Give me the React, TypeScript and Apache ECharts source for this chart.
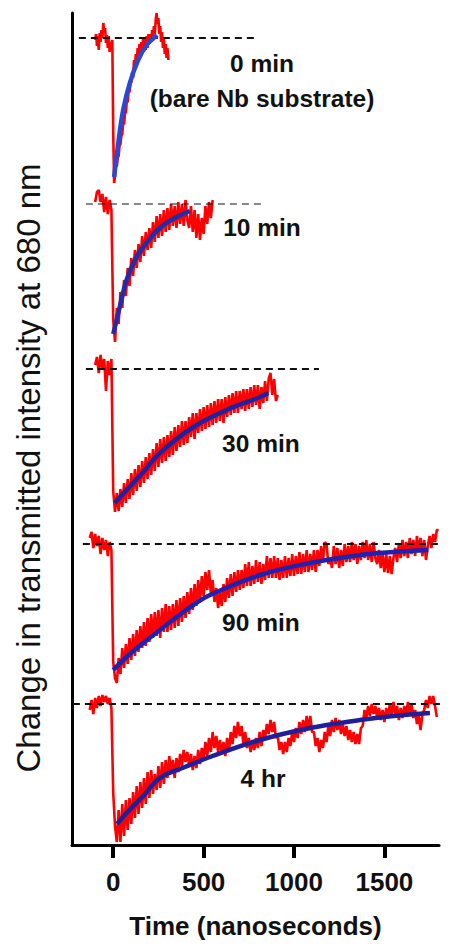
import React, { useEffect, useRef } from "react";
import * as echarts from "echarts";

// ---- axes ----
const X_TICKS = [0, 500, 1000, 1500];
const X_MIN = -228;
const X_MAX = 1802;
const Y_MIN = 0;
const Y_MAX = 832;
const X_TITLE = "Time (nanoseconds)";
const Y_TITLE = "Change in transmitted intensity at 680 nm";

// ---- traces (vertical offsets and dashed pre-flash baselines) ----
const TRACE_NAMES = ["0 min", "10 min", "30 min", "90 min", "4 hr"];
const BASELINES = [807, 641, 476, 301, 141];
const DASH_START = [-190, -151, -151, -168, -223];
const DASH_END = [784, 823, 1138, 1868, 1868];
const DASH_WIDTH = [2, 1.2, 2, 2, 1.8];
const RED_START = [-100, -100, -100, -130, -130];
const RED_STEP = [5, 10, 10, 10, 10];

// measured transients (change relative to baseline)
const RED_0 = [
  -2, 4, -8, 2, -12, 5, -4, 8, 0, 15, 6, 10, -5, 3, -10, 2, -14, -4, -8, -2,
  -95, -145, -138, -128, -128, -120, -118, -108, -106, -98, -96, -86, -86, -76, -74, -64, -64, -54, -54, -46,
  -44, -34, -40, -22, -30, -16, -26, -10, -22, -6,
  -17, -4, -16, -1, -14, 0, -12, 2, -10, 4,
  -6, 4, -4, 8, 2, 12, 4, 18, 25, 14,
  20, 4, 12, -4, 6, -10, 0, -16, -6, -20, -10, -22,
];
const RED_1 = [
  2, 12, 14, 2, 10, -8, 7, -10, 4, -6,
  -116, -138, -104, -120, -88, -104, -76, -92, -64, -82,
  -54, -72, -46, -64, -40, -58, -32, -52, -28, -46,
  -24, -44, -18, -38, -12, -34, -10, -32, -6, -28,
  -4, -26, 0, -22, -2, -24, 2, -20, 0, -22,
  4, -16, -24, -2, -28, -6, -34, -10, -36, -14,
  -30, -2, -20, 2, -14, 4,
];
const RED_2 = [
  4, 12, -4, 14, 0, 10, -22, 8, -6, 10,
  -122, -143, -124, -142, -120, -138, -114, -134, -110, -130,
  -104, -126, -100, -122, -96, -118, -92, -114, -88, -110,
  -84, -106, -80, -102, -74, -98, -70, -94, -68, -92,
  -66, -88, -62, -86, -58, -82, -56, -78, -52, -76,
  -52, -74, -48, -68, -44, -70, -44, -64, -40, -62,
  -38, -60, -36, -58, -34, -56, -32, -54, -30, -52,
  -30, -54, -28, -48, -26, -46, -24, -44, -22, -44,
  -22, -40, -20, -42, -20, -40, -18, -38, -16, -36,
  -16, -40, -18, -34, -12, -32, -10, -4, -26, -10, -32, -26,
];
const RED_3 = [
  6, 12, -4, 10, -2, 8, -10, 6, -6, 4, -12, 2, -6,
  -118, -134, -139, -114, -130, -104, -124, -100, -120, -94,
  -116, -90, -112, -86, -108, -82, -104, -78, -102, -74,
  -98, -70, -94, -68, -92, -66, -94, -64, -88, -60,
  -88, -62, -86, -60, -84, -56, -82, -54, -78, -52,
  -74, -48, -70, -44, -66, -40, -62, -36, -58, -32,
  -52, -28, -46, -26, -50, -36, -58, -44, -64, -48,
  -62, -40, -58, -34, -54, -30, -52, -28, -48, -26,
  -46, -26, -44, -20, -42, -18, -42, -22, -40, -16,
  -38, -18, -40, -20, -36, -12, -34, -14, -34, -12,
  -34, -14, -36, -16, -34, -12, -34, -14, -32, -10,
  -32, -12, -30, -8, -30, -10, -28, -6, -28, -10,
  -26, -6, -28, -6, -22, -2, -18, 2, 0, -20,
  -14, -24, -2, -20, -4, -24, -6, -22, 0, -18,
  -2, -18, 2, -16, 0, -20, -2, -16, 2, -14,
  4, -16, 0, -18, 2, -14, -20, -6, -24, -10,
  -28, -10, -29, -12, -30, -14, -4, -18, 0, -14,
  4, -12, 2, -14, 6, -10, 4, -12, 8, -8,
  6, -12, 4, -16, -2, 8, -4, 10, 2, 14, 14,
];
const RED_4 = [
  -6, 4, -10, 6, -4, 8, -2, 9, 2, 8, 0, 6, -4,
  -89, -122, -138, -106, -138, -100, -132, -96, -126, -94,
  -120, -88, -114, -82, -110, -78, -104, -74, -100, -68,
  -94, -66, -90, -70, -86, -62, -84, -58, -80, -56,
  -74, -52, -70, -56, -74, -54, -68, -50, -62, -46,
  -58, -48, -62, -50, -66, -52, -64, -46, -60, -44,
  -56, -38, -52, -34, -48, -28, -44, -32, -48, -36,
  -50, -38, -52, -34, -48, -28, -40, -22, -34, -18,
  -32, -22, -40, -28, -44, -34, -48, -36, -46, -34,
  -44, -28, -42, -26, -34, -20, -30, -16, -28, -18,
  -34, -32, -46, -38, -50, -38, -48, -34, -42, -28,
  -38, -24, -34, -18, -30, -16, -28, -12, -26, -12,
  -28, -28, -42, -34, -48, -36, -44, -28, -38, -22,
  -32, -16, -28, -14, -26, -16, -30, -20, -32, -22,
  -36, -26, -38, -28, -40, -30, -40, -24, -22, -6,
  -14, -2, -12, 0, -10, -2, -14, -4, -16, -6,
  -18, -4, -14, 0, -12, 2, -10, -2, -16, -4,
  -14, -2, -12, 2, -10, 0, -14, -6, -20, -12,
  -26, -10, -6, 4, -4, 8, 0, 8, -2, -13,
];
const REDS = [RED_0, RED_1, RED_2, RED_3, RED_4];

// fitted exponential recoveries, read as [time ns, change]
const FIT_0 = [[5, -139], [28, -105], [55, -72], [92, -45], [138, -22], [185, -7], [231, 1], [242, 3]];
const FIT_1 = [[0, -130], [28, -109], [74, -76], [120, -56], [166, -43], [258, -24], [351, -13], [424, -7]];
const FIT_2 = [[9, -134], [74, -121], [166, -103], [258, -84], [443, -58], [627, -41], [812, -28], [858, -24]];
const FIT_3 = [[0, -126], [74, -113], [166, -99], [258, -86], [351, -73], [443, -61], [535, -51], [812, -31], [1089, -19], [1365, -11], [1550, -8], [1743, -6]];
const FIT_4 = [[22, -120], [74, -109], [166, -92], [258, -74], [397, -63], [535, -53], [812, -36], [1089, -24], [1365, -16], [1550, -12], [1752, -9]];
const FITS = [FIT_0, FIT_1, FIT_2, FIT_3, FIT_4];
const FIT_COLORS = ["#2b48d4", "#1f2ea8", "#1f22a0", "#1f22b0", "#1f1f9c"];

// annotations (data coordinates)
const LABEL_TEXTS = ["0 min", "(bare Nb substrate)", "10 min", "30 min", "90 min", "4 hr"];
const LABEL_T = [823, 823, 823, 817, 817, 829];
const LABEL_Y = [782, 747, 618, 402, 223, 67];

const FONT = '"Liberation Sans", Arial, Helvetica, sans-serif';

export default function App() {
  const ref = useRef<HTMLDivElement>(null);
  useEffect(() => {
    if (!ref.current) return;
    const chart = echarts.init(ref.current, null, { renderer: "svg" });
    const series: any[] = [];
    for (let i = 0; i < TRACE_NAMES.length; i++) {
      const base = BASELINES[i];
      series.push({
        name: TRACE_NAMES[i] + " data",
        type: "line",
        data: REDS[i].map((v, k) => [RED_START[i] + k * RED_STEP[i], base + v]),
        symbol: "none",
        lineStyle: { color: "#ff0000", width: 2.6 },
        clip: false,
        z: 2,
        silent: true,
      });
      series.push({
        name: TRACE_NAMES[i] + " baseline",
        type: "line",
        data: [[DASH_START[i], base], [DASH_END[i], base]],
        symbol: "none",
        lineStyle: { color: "#111", width: DASH_WIDTH[i], type: [7, 5] },
        clip: false,
        z: 3,
        silent: true,
      });
      series.push({
        name: TRACE_NAMES[i] + " fit",
        type: "line",
        data: FITS[i].map(([t, v]) => [t, base + v]),
        symbol: "none",
        smooth: 0.4,
        lineStyle: { color: FIT_COLORS[i], width: 4.5 },
        clip: false,
        z: 4,
        silent: true,
      });
    }
    series.push({
      name: "labels",
      type: "scatter",
      data: LABEL_TEXTS.map((s, k) => ({ name: s, value: [LABEL_T[k], LABEL_Y[k]] })),
      symbolSize: 1,
      itemStyle: { color: "rgba(0,0,0,0)", opacity: 1 },
      label: {
        show: true,
        position: "inside",
        formatter: "{b}",
        fontSize: 24.5,
        fontWeight: "bold",
        color: "#111",
        opacity: 1,
        fontFamily: FONT,
      },
      z: 5,
      silent: true,
    });

    chart.setOption({
      animation: false,
      backgroundColor: "#fff",
      grid: { left: 72, right: 12, top: 13, bottom: 100, containLabel: false, outerBoundsMode: "none" },
      xAxis: {
        type: "value",
        min: X_MIN,
        max: X_MAX,
        name: X_TITLE,
        nameLocation: "middle",
        nameGap: 68,
        nameTextStyle: { fontSize: 26, fontWeight: "bold", color: "#111", fontFamily: FONT },
        axisLine: { show: true, onZero: false, lineStyle: { color: "#000", width: 3 } },
        axisTick: { show: true, customValues: X_TICKS, length: 13, lineStyle: { color: "#000", width: 4 } },
        axisLabel: {
          customValues: X_TICKS,
          formatter: (v: number) => String(v),
          fontSize: 26,
          fontWeight: "bold",
          color: "#111",
          margin: 24,
          fontFamily: FONT,
        },
        splitLine: { show: false },
      },
      yAxis: {
        type: "value",
        min: Y_MIN,
        max: Y_MAX,
        axisLine: { show: true, onZero: false, lineStyle: { color: "#000", width: 3 } },
        axisTick: { show: false },
        axisLabel: { show: false },
        splitLine: { show: false },
      },
      graphic: [
        {
          type: "text",
          x: 28,
          y: 468,
          rotation: Math.PI / 2,
          silent: true,
          style: {
            text: Y_TITLE,
            font: `33px ${FONT}`,
            fill: "#111",
            align: "center",
            verticalAlign: "middle",
            textAlign: "center",
            textVerticalAlign: "middle",
          },
        },
      ],
      series,
    });
    return () => chart.dispose();
  }, []);
  return (
    <div
      ref={ref}
      style={{ position: "fixed", left: 0, top: 0, width: 451, height: 945, background: "#fff" }}
    />
  );
}
